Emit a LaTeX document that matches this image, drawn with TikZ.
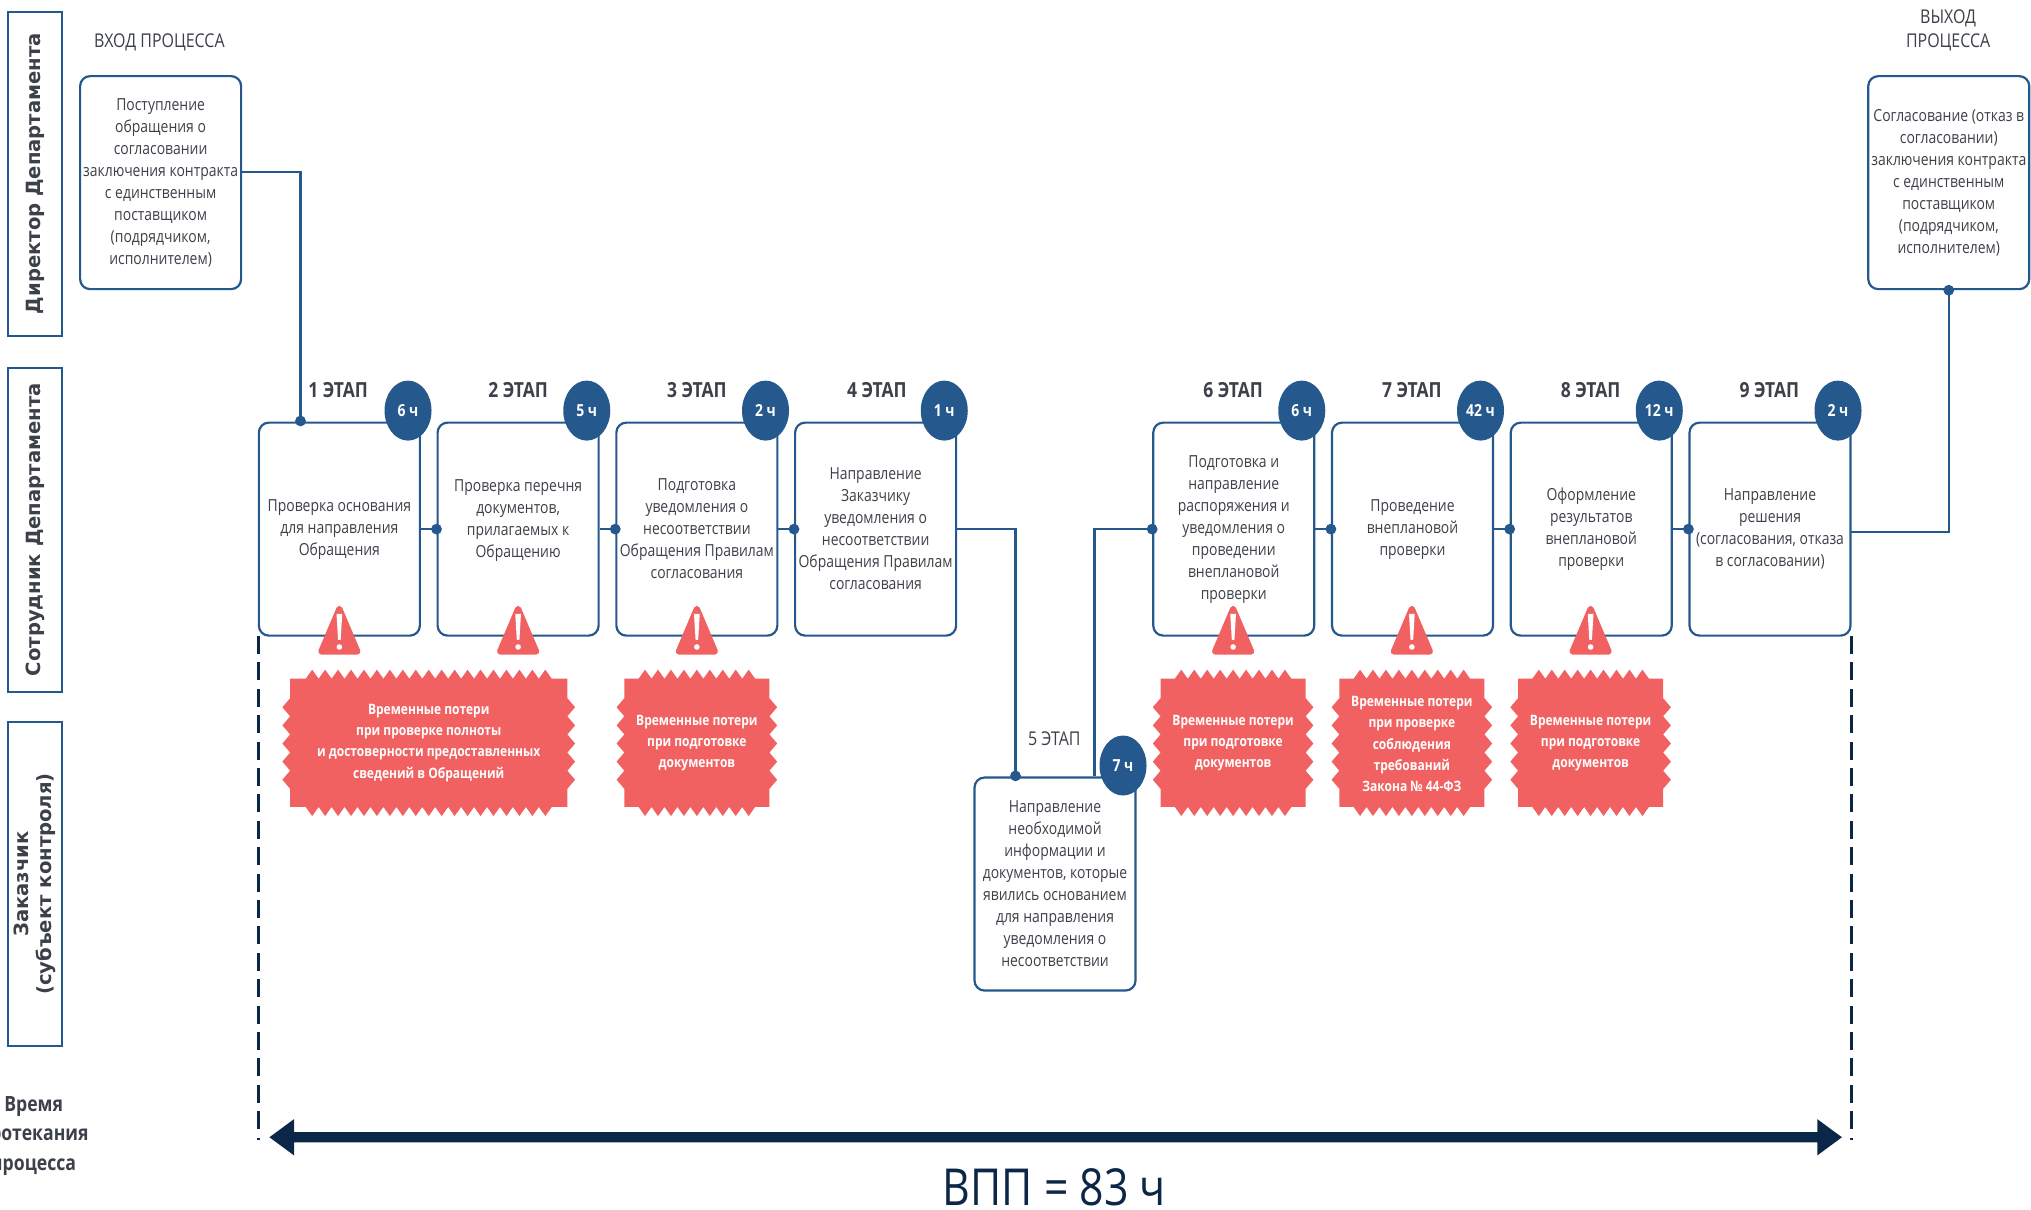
\documentclass[tikz,border=0pt]{standalone}
\usepackage{fontspec}
\usetikzlibrary{shapes.geometric}
\setmainfont[FakeStretch=0.84]{Open Sans}
\newfontfamily\lanefont{DejaVu Sans}
\definecolor{bl}{HTML}{25588C}
\definecolor{navy}{HTML}{0C2647}
\definecolor{warnred}{HTML}{F26161}
\definecolor{txt}{HTML}{3C4048}
\tikzset{
  box/.style={draw=bl,line width=1.1pt,rounded corners=5pt,fill=white,minimum width=80.5pt,minimum height=106.5pt,inner sep=0pt,align=center,text=txt,font=\fontsize{8.3}{11}\selectfont},
  hour/.style={ellipse,fill=bl,text=white,minimum width=23.5pt,minimum height=30pt,inner sep=0pt,font=\fontsize{8.3}{9}\selectfont\bfseries},
  stagelab/.style={text=txt,inner sep=0pt,font=\fontsize{10.4}{11}\selectfont\bfseries},
  lane/.style={draw=bl,line width=1pt,minimum width=162pt,minimum height=27pt,inner sep=0pt,rotate=90,align=center,text=txt,font=\lanefont\fontsize{9.8}{11.4}\selectfont\bfseries},
  zigtext/.style={text=white,inner sep=0pt,align=center,font=\fontsize{7.15}{10.6}\selectfont\bfseries},
  link/.style={draw=bl,line width=1.1pt},
  dot/.style={circle,fill=bl,minimum size=5.4pt,inner sep=0pt},
  plainlab/.style={text=txt,inner sep=0pt,align=center,font=\fontsize{9.5}{11.6}\selectfont},
  vdash/.style={draw=navy,line width=1.2pt,dash pattern=on 9pt off 4.2pt},
}
\newcommand{\zigshape}[3]{% cx, half body width, n top teeth
  \fill[warnred] ({#1-#2},524) -- ({#1-#3*5},524)
    \foreach \i in {1,...,#3} { -- ({#1-#3*5+(\i-0.5)*10},517) -- ({#1-#3*5+\i*10},524) }
    -- ({#1+#2},524) -- ({#1+#2},539)
    \foreach \i in {1,...,5} { -- ({#1+#2+6},{539+(\i-0.5)*14}) -- ({#1+#2},{539+\i*14}) }
    -- ({#1+#2},623) -- ({#1+#3*5},623)
    \foreach \i in {1,...,#3} { -- ({#1+#3*5-(\i-0.5)*10},630) -- ({#1+#3*5-\i*10},623) }
    -- ({#1-#2},623) -- ({#1-#2},609)
    \foreach \i in {1,...,5} { -- ({#1-#2-6},{609-(\i-0.5)*14}) -- ({#1-#2},{609-\i*14}) }
    -- cycle;
}
\newcommand{\warnsign}[1]{%
  \fill[warnred,draw=warnred,line width=3pt,line join=round] (#1,470) -- ({#1+14},503) -- ({#1-14},503) -- cycle;
  \fill[white] ({#1-2.2},474) -- ({#1+2.2},474) -- ({#1+1},494) -- ({#1-1},494) -- cycle;
  \fill[white] (#1,499.5) circle[radius=1.4pt];
}
\begin{document}
\begin{tikzpicture}[x=0.64764pt,y=-0.64764pt]
\useasboundingbox (0,0) rectangle (1568,933.4);
\clip (0,0) rectangle (1568,933.4);
% lanes
\node[lane] (l1) at (27,134) {Директор Департамента};
\node[lane] (l2) at (27,409) {Сотрудник Департамента};
\node[lane] (l3) at (27,682.5) {Заказчик\\(субъект контроля)};
% dashed limits
\coordinate (dl1) at (199.5,491);
\coordinate (dl2) at (199.5,880);
\coordinate (dr1) at (1429.5,491);
\coordinate (dr2) at (1429.5,880);
\draw[vdash] (dl1) -- (dl2);
\draw[vdash] (dr1) -- (dr2);
% boxes
\node[box] (in) at (124,141) {Поступление\\обращения о\\согласовании\\заключения контракта\\с единственным\\поставщиком\\(подрядчиком,\\исполнителем)};
\node[box] (out) at (1504.5,141) {Согласование (отказ в\\согласовании)\\заключения контракта\\с единственным\\поставщиком\\(подрядчиком,\\исполнителем)};
\node[box] (s1) at (262,408.5) {Проверка основания\\для направления\\Обращения};
\node[box] (s2) at (400,408.5) {Проверка перечня\\документов,\\прилагаемых к\\Обращению\\~};
\node[box] (s3) at (538,408.5) {Подготовка\\уведомления о\\несоответствии\\Обращения Правилам\\согласования};
\node[box] (s4) at (676,408.5) {Направление\\Заказчику\\уведомления о\\несоответствии\\Обращения Правилам\\согласования};
\node[box] (s5) at (814.5,682.5) {Направление\\необходимой\\информации и\\документов, которые\\явились основанием\\для направления\\уведомления о\\несоответствии};
\node[box] (s6) at (952.5,408.5) {Подготовка и\\направление\\распоряжения и\\уведомления о\\проведении\\внеплановой\\проверки};
\node[box] (s7) at (1090.5,408.5) {Проведение\\внеплановой\\проверки};
\node[box] (s8) at (1228.5,408.5) {Оформление\\результатов\\внеплановой\\проверки};
\node[box] (s9) at (1366.5,408.5) {Направление\\решения\\(согласования, отказа\\в согласовании)};
% connectors
\coordinate (inout) at (186,133);
\coordinate (s1top) at (232,325);
\coordinate (s4bend) at (784,408.5);
\coordinate (s5top) at (784,599);
\coordinate (s5up) at (845,599);
\coordinate (s9out) at (1429,411);
\draw[link] (inout) -| (s1top);
\draw[link] (s1) -- (s2);
\draw[link] (s2) -- (s3);
\draw[link] (s3) -- (s4);
\draw[link] (s4.east) -- (s4bend) -- (s5top);
\draw[link] (s5up) |- (s6.west);
\draw[link] (s6) -- (s7);
\draw[link] (s7) -- (s8);
\draw[link] (s8) -- (s9);
\draw[link] (s9out) -| (out.south);
\node[dot] (d1) at (s1top) {};
\node[dot] (d2) at (s2.west) {};
\node[dot] (d3) at (s3.west) {};
\node[dot] (d4) at (s4.west) {};
\node[dot] (d5) at (s5top) {};
\node[dot] (d6) at (s6.west) {};
\node[dot] (d7) at (s7.west) {};
\node[dot] (d8) at (s8.west) {};
\node[dot] (d9) at (s9.west) {};
\node[dot] (d10) at (out.south) {};
% hours
\node[hour] (h1) at (315,317) {6 ч};
\node[hour] (h2) at (453,317) {5 ч};
\node[hour] (h3) at (591,317) {2 ч};
\node[hour] (h4) at (729,317) {1 ч};
\node[hour] (h5) at (867,591) {7 ч};
\node[hour] (h6) at (1005,317) {6 ч};
\node[hour] (h7) at (1143,317) {42 ч};
\node[hour] (h8) at (1281,317) {12 ч};
\node[hour] (h9) at (1419,317) {2 ч};
% stage labels
\node[stagelab] (e1) at (261,301) {1 ЭТАП};
\node[stagelab] (e2) at (400,301) {2 ЭТАП};
\node[stagelab] (e3) at (538,301) {3 ЭТАП};
\node[stagelab] (e4) at (677,301) {4 ЭТАП};
\node[plainlab] (e5) at (814,570) {5 ЭТАП};
\node[stagelab] (e6) at (952,301) {6 ЭТАП};
\node[stagelab] (e7) at (1090,301) {7 ЭТАП};
\node[stagelab] (e8) at (1228,301) {8 ЭТАП};
\node[stagelab] (e9) at (1366,301) {9 ЭТАП};
\node[plainlab] (inl) at (123,32.5) {ВХОД ПРОЦЕССА};
\node[plainlab] (outl) at (1504,23.5) {ВЫХОД\\ПРОЦЕССА};
% warnings
\warnsign{262}\warnsign{400}\warnsign{538}\warnsign{952}\warnsign{1090}\warnsign{1228}
\zigshape{331}{107}{19}
\zigshape{538}{56}{9}
\zigshape{952}{56}{9}
\zigshape{1090}{56}{9}
\zigshape{1228}{56}{9}
\node[zigtext] (z1) at (331,573.5) {Временные потери\\при проверке полноты\\и достоверности предоставленных\\сведений в Обращений};
\node[zigtext] (z2) at (538,573.5) {Временные потери\\при подготовке\\документов};
\node[zigtext] (z3) at (952,573.5) {Временные потери\\при подготовке\\документов};
\node[zigtext] (z4) at (1090,574.5) {Временные потери\\при проверке\\соблюдения\\требований\\Закона № 44-ФЗ};
\node[zigtext] (z5) at (1228,573.5) {Временные потери\\при подготовке\\документов};
% time arrow
\fill[navy] (208,878) -- (227,864) -- (227,874) -- (1403,874) -- (1403,864) -- (1422,878) -- (1403,892) -- (1403,882) -- (227,882) -- (227,892) -- cycle;
\node[text=txt,inner sep=0pt,align=center,font=\fontsize{10.5}{14.6}\selectfont\bfseries] (tl) at (26,877) {Время\\протекания\\процесса};
\node[text=navy,inner sep=0pt,font=\fontsize{25.5}{30}\selectfont] (vpp) at (814,916.5) {ВПП = 83 ч};
\end{tikzpicture}
\end{document}
